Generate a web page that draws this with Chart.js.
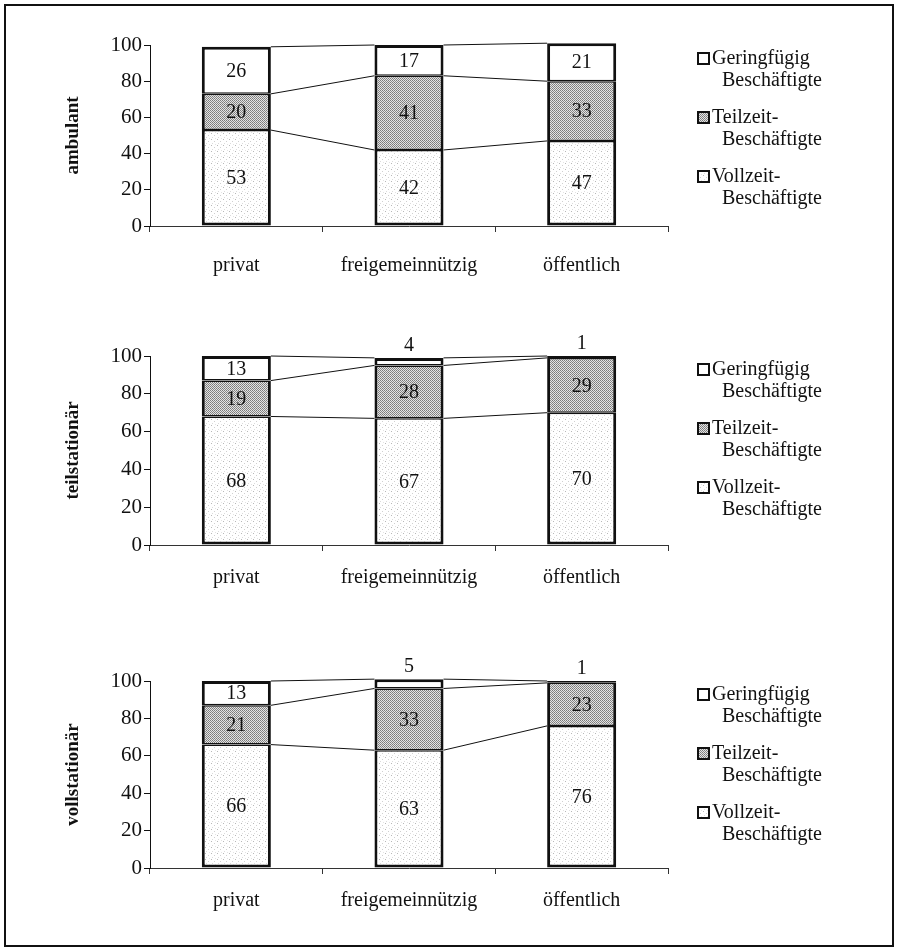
<!DOCTYPE html>
<html><head><meta charset="utf-8">
<script src="https://cdn.jsdelivr.net/npm/chart.js@4.4.1/dist/chart.umd.min.js"></script>
<style>
html,body{margin:0;padding:0;background:#fff;}
#wrap{position:relative;width:898px;height:949px;overflow:hidden;background:#fff;}
#frame{position:absolute;left:4px;top:4px;width:890px;height:943px;border:2px solid #111;box-sizing:border-box;}
canvas{position:absolute;left:0;}
</style></head><body>
<div id="wrap">
<div id="frame"></div>
<canvas id="c1" width="898" height="310" style="top:0px"></canvas>
<canvas id="c2" width="898" height="320" style="top:310px"></canvas>
<canvas id="c3" width="898" height="319" style="top:630px"></canvas>
</div>
<script>
// ---- data ----
const categories = ['privat', 'freigemeinnützig', 'öffentlich'];
const seriesLabels = [['Geringfügig', 'Beschäftigte'], ['Teilzeit-', 'Beschäftigte'], ['Vollzeit-', 'Beschäftigte']];
const panelTitles = ['ambulant', 'teilstationär', 'vollstationär'];
const yTickValues = [0, 20, 40, 60, 80, 100];

const ambulantVollzeit = [53, 42, 47];
const ambulantTeilzeit = [20, 41, 33];
const ambulantGeringfuegig = [26, 17, 21];

const teilstationaerVollzeit = [68, 67, 70];
const teilstationaerTeilzeit = [19, 28, 29];
const teilstationaerGeringfuegig = [13, 4, 1];

const vollstationaerVollzeit = [66, 63, 76];
const vollstationaerTeilzeit = [21, 33, 23];
const vollstationaerGeringfuegig = [13, 5, 1];

// ---- layout (canvas-relative) ----
const panelLayout = [
  {id: 'c1', h: 310, top: 45, bottom: 226, labelPad: 22},
  {id: 'c2', h: 320, top: 46, bottom: 235, labelPad: 15},
  {id: 'c3', h: 319, top: 51, bottom: 238, labelPad: 15}
];
const AXIS_X = 150, AXIS_RIGHT = 668;

// ---- fill patterns (deterministic) ----
function makePattern(size, base, dots) {
  const c = document.createElement('canvas');
  c.width = size; c.height = size;
  const g = c.getContext('2d');
  g.fillStyle = base; g.fillRect(0, 0, size, size);
  dots.forEach(d => { g.fillStyle = d[2]; g.fillRect(d[0], d[1], 1, 1); });
  return g.createPattern(c, 'repeat');
}
const ctx0 = document.createElement('canvas').getContext('2d');
const patTeil = makePattern(2, '#e4e4e4', [[0, 0, '#7a7a7a'], [1, 1, '#8a8a8a']]);
const patVoll = makePattern(6, '#ffffff', [[1, 1, '#b8b8b8'], [4, 3, '#d0d0d0'], [2, 5, '#dcdcdc'], [5, 0, '#e4e4e4']]);
const fills = [ '#ffffff', patTeil, patVoll ];

const SERIF = "'Liberation Serif', 'Times New Roman', serif";

// ---- plugins ----
const seriesLines = {
  id: 'seriesLines',
  afterDatasetsDraw(chart) {
    const ctx = chart.ctx;
    ctx.save();
    ctx.strokeStyle = '#111';
    ctx.lineWidth = 1;
    chart.data.datasets.forEach((ds, d) => {
      const meta = chart.getDatasetMeta(d);
      for (let i = 0; i < meta.data.length - 1; i++) {
        const a = meta.data[i], b = meta.data[i + 1];
        ctx.beginPath();
        ctx.moveTo(a.x + a.width / 2, a.y);
        ctx.lineTo(b.x - b.width / 2, b.y);
        ctx.stroke();
      }
    });
    ctx.restore();
  }
};

const segmentLabels = {
  id: 'segmentLabels',
  afterDatasetsDraw(chart) {
    const ctx = chart.ctx;
    ctx.save();
    ctx.font = '20px ' + SERIF;
    ctx.fillStyle = '#111';
    ctx.textAlign = 'center';
    ctx.textBaseline = 'middle';
    const n = chart.data.datasets.length;
    chart.data.datasets.forEach((ds, d) => {
      const meta = chart.getDatasetMeta(d);
      meta.data.forEach((el, i) => {
        const v = ds.data[i];
        if (v >= 8) {
          ctx.fillText(String(v), el.x, (el.y + el.base) / 2 + 1);
        } else {
          let top = Infinity;
          for (let k = 0; k < n; k++) top = Math.min(top, chart.getDatasetMeta(k).data[i].y);
          ctx.fillText(String(v), el.x, top - 12);
        }
      });
    });
    ctx.restore();
  }
};

const sideLegend = {
  id: 'sideLegend',
  afterDraw(chart) {
    const ctx = chart.ctx;
    const top = chart.chartArea.top;
    ctx.save();
    ctx.font = '20px ' + SERIF;
    ctx.fillStyle = '#111';
    ctx.textBaseline = 'middle';
    ctx.textAlign = 'left';
    // legend order: top series first
    const order = [2, 1, 0];
    order.forEach((d, k) => {
      const ds = chart.data.datasets[d];
      const y1 = top + 14 + k * 59;
      ctx.fillStyle = ds.backgroundColor;
      ctx.fillRect(698, y1 - 6, 11, 11);
      ctx.strokeStyle = '#111';
      ctx.lineWidth = 2;
      ctx.strokeRect(698, y1 - 6, 11, 11);
      ctx.fillStyle = '#111';
      const lines = ds.label;
      ctx.fillText(lines[0], 712, y1);
      ctx.fillText(lines[1], 722, y1 + 22);
    });
    ctx.restore();
  }
};

function buildChart(p, title, voll, teil, gering) {
  const L = panelLayout[p];
  const datasets = [
    {label: seriesLabels[2], data: voll, backgroundColor: fills[2],
     borderWidth: {left: 3, right: 3, top: 1.5, bottom: 3}},
    {label: seriesLabels[1], data: teil, backgroundColor: fills[1],
     borderWidth: {left: 3, right: 3, top: 1.5, bottom: 1.5}},
    {label: seriesLabels[0], data: gering, backgroundColor: fills[0],
     borderWidth: {left: 3, right: 3, top: 3, bottom: 1.5}}
  ].map(ds => Object.assign(ds, {borderColor: '#111', borderSkipped: false, clip: false,
     barPercentage: 0.4, categoryPercentage: 1}));
  return new Chart(document.getElementById(L.id), {
    type: 'bar',
    data: {labels: categories, datasets},
    plugins: [seriesLines, segmentLabels, sideLegend],
    options: {
      responsive: false,
      animation: false,
      devicePixelRatio: 1,
      layout: {padding: {top: L.top, right: 898 - AXIS_RIGHT, left: 0, bottom: 0}},
      plugins: {legend: {display: false}, tooltip: {enabled: false}, title: {display: false}},
      scales: {
        x: {
          stacked: true,
          offset: true,
          grid: {offset: true, drawOnChartArea: false, tickLength: 6, color: '#333', lineWidth: 1},
          border: {color: '#333', width: 1},
          ticks: {font: {family: SERIF, size: 20}, color: '#111', padding: L.labelPad, maxRotation: 0},
          afterFit(s) { s.height = L.h - L.bottom; }
        },
        y: {
          stacked: true,
          min: 0, max: 100,
          afterBuildTicks(s) { s.ticks = yTickValues.map(v => ({value: v})); },
          grid: {drawOnChartArea: false, tickLength: 6, color: '#111', lineWidth: 1},
          border: {color: '#111', width: 1},
          ticks: {font: {family: SERIF, size: 21}, color: '#111', padding: 2},
          title: {display: true, text: title, font: {family: SERIF, size: 19, weight: 'bold'},
                  color: '#111', padding: {top: 62, bottom: 0}},
          afterFit(s) { s.width = AXIS_X; }
        }
      }
    }
  });
}

buildChart(0, panelTitles[0], ambulantVollzeit, ambulantTeilzeit, ambulantGeringfuegig);
buildChart(1, panelTitles[1], teilstationaerVollzeit, teilstationaerTeilzeit, teilstationaerGeringfuegig);
buildChart(2, panelTitles[2], vollstationaerVollzeit, vollstationaerTeilzeit, vollstationaerGeringfuegig);
</script>
</body></html>
